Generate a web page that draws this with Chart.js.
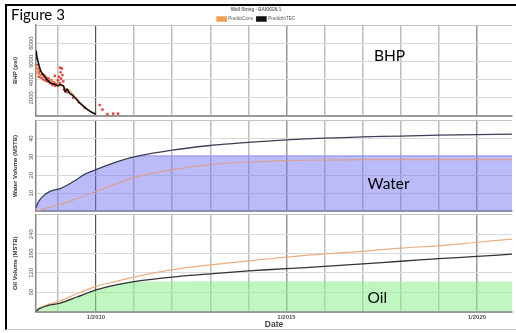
<!DOCTYPE html>
<html><head><meta charset="utf-8">
<script src="https://cdn.jsdelivr.net/npm/chart.js@4/dist/chart.umd.min.js"></script>
<style>
html,body{margin:0;padding:0;background:#fff;}
body{width:516px;height:333px;position:relative;overflow:hidden;}
.cw{position:absolute;left:0;width:516px;}
.frame{position:absolute;left:5px;top:4px;width:520px;height:323px;border-left:2px solid #000;border-top:2px solid #000;border-bottom:1px solid #c8c8c8;}
.lbl{position:absolute;font-family:Lato,sans-serif;color:#000;line-height:1;white-space:nowrap;}
</style></head><body>
<div class="frame"></div>
<div class="cw" style="top:0;height:120px"><canvas id="c1" width="516" height="120"></canvas></div>
<div class="cw" style="top:116px;height:100px"><canvas id="c2" width="516" height="100"></canvas></div>
<div class="cw" style="top:212px;height:121px"><canvas id="c3" width="516" height="121"></canvas></div>
<div class="lbl" style="left:11px;top:7.4px;font-size:15px">Figure 3</div>
<div class="lbl" style="left:374px;top:47.5px;font-size:15.5px">BHP</div>
<div class="lbl" style="left:367.5px;top:175.6px;font-size:15.5px">Water</div>
<div class="lbl" style="left:367.5px;top:290px;font-size:15.5px">Oil</div>
<script>
// ---------- data (x = decimal year) ----------
const X_MIN = 2008.425, X_MAX = 2020.92;
const chartTitle = 'Well String - BAKKEN 1';
const seriesNames = ['PredictCons', 'PredictInTEC', 'Observed'];

const bhpInTECYears = [2008.43,2008.45,2008.49,2008.53,2008.57,2008.62,2008.66,2008.72,2008.79,2008.86,2008.92,2009.0,2009.05,2009.1,2009.15,2009.19,2009.24,2009.28,2009.32,2009.38,2009.45,2009.52,2009.58,2009.65,2009.72,2009.79,2009.87,2009.94,2010.0];
const bhpInTEC      = [7200,6500,5800,5200,4800,4500,4300,4000,3700,3550,3500,3300,3450,3400,3300,2650,2950,2700,2450,2300,2000,1700,1400,1150,900,680,450,300,200];
const bhpConsYears  = [2008.43,2008.47,2008.52,2008.6,2008.7,2008.8,2008.9,2009.0,2009.1,2009.2,2009.3,2009.45,2009.6,2009.8,2010.0];
const bhpCons       = [5600,4800,4500,4400,4100,3900,3600,3400,3300,3000,2800,2100,1400,650,150];
const bhpObsYears   = [2008.43,2008.45,2008.47,2008.49,2008.5,2008.52,2008.55,2008.57,2008.6,2008.62,2008.65,2008.68,2008.7,2008.73,2008.76,2008.8,2008.83,2008.86,2008.9,2008.92,2008.93,2008.97,2009.0,2009.03,2009.05,2009.06,2009.07,2009.08,2009.1,2009.12,2009.14,2009.16,2009.25,2009.4,2009.55,2009.7,2010.1,2010.17,2010.3,2010.45,2010.58];
const bhpObs        = [6300,5600,5200,4700,4300,4900,4500,4200,4600,4000,4400,3900,4200,3800,4100,3600,3900,3400,3700,4400,3300,3500,3900,4300,3600,5300,4800,4100,5200,4500,3800,2900,2600,2000,1500,900,1200,700,200,250,250];

const waterYears    = [2008.43,2008.48,2008.61,2008.79,2009.06,2009.24,2009.45,2009.71,2010.0,2010.5,2011.0,2012.0,2013.0,2014.0,2015.0,2016.0,2017.0,2018.0,2019.0,2020.0,2020.92];
const waterInTEC    = [2,5,8.4,11,12.6,14.4,17,20.5,23,27,30,33.7,36.3,38,39.4,40.3,41,41.5,42,42.3,42.5];
const waterConsYears= [2008.43,2008.7,2009.06,2009.5,2010.0,2010.5,2011.0,2012.0,2013.0,2014.0,2015.0,2016.0,2017.0,2018.0,2019.0,2020.0,2020.92];
const waterCons     = [0,1.8,3.9,7,11,15,18.7,23,25.8,27.2,28,28.3,28.5,28.5,28.5,28.5,28.5];
const waterFillYears= [2008.43,2008.48,2008.61,2008.79,2009.06,2009.24,2009.45,2009.71,2010.0,2010.5,2011.0,2011.12,2020.92];
const waterFill     = [2,5,8.4,11,12.6,14.4,17,20.5,23,27,30,31,31];

const oilYears      = [2008.43,2008.5,2008.75,2009.06,2009.5,2010.0,2010.5,2011.0,2012.0,2013.0,2014.0,2015.0,2016.0,2017.0,2018.0,2019.0,2020.0,2020.92];
const oilInTEC      = [0,8,19,26,45,67,82,93,107,117,126,133,140,148,156,164,171,178];
const oilCons       = [0,10,22,33,55,78,93,107,130,145,157,169,179,187,197,204,215,225];
const oilFillYears  = [2008.43,2008.5,2008.75,2009.06,2009.5,2010.0,2010.5,2011.0,2020.92];
const oilFill       = [0,8,19,26,45,67,82,93,93];

const xTickLabels = {2010:'1/2010', 2015:'1/2015', 2020:'1/2020'};
const bhpTicks = [2000,4000,6000,8000];
const waterTicks = [10,20,30,40];
const oilTicks = [60,120,180,240];

// ---------- helpers ----------
const pts = (xs, ys) => xs.map((x, i) => ({x, y: ys[i]}));
const FONT = 'Liberation Sans';

function xScale(last) {
  return {
    type: 'linear', min: X_MIN, max: X_MAX,
    ticks: {display: last, stepSize: 1, autoSkip: false, maxRotation: 0, includeBounds: false,
      padding: 2, color: '#555', font: {size: 6, weight: 'bold', family: FONT},
      callback: v => xTickLabels[v] || ''},
    grid: {drawTicks: false,
      color: c => (c.tick && c.tick.value === 2010) ? '#555' : ((c.tick && (c.tick.value === 2015 || c.tick.value === 2020)) ? '#999' : '#bdbdbd'),
      lineWidth: c => (c.tick && c.tick.value === 2010) ? 1.2 : 1.5},
    border: {color: '#9a9a9a', width: 2},
    title: {display: last, text: 'Date', color: '#444', font: {size: 8.5, weight: 'bold', family: FONT}, padding: {top: 0, bottom: 3}},
    afterFit: s => { s.height = last ? 21.5 : 0; }
  };
}
function yScale(title, max, step, labels, pad) {
  return {
    type: 'linear', min: 0, max: max,
    ticks: {stepSize: step, minRotation: 90, maxRotation: 90, crossAlign: 'center', padding: pad,
      color: '#555', font: {size: 6, family: FONT},
      callback: v => labels.includes(v) ? String(v) : ''},
    grid: {drawTicks: false, color: c => (c.tick && c.tick.value === max) ? '#c4c4c4' : '#dadada', lineWidth: 1},
    border: {color: '#888', width: 1.5},
    title: {display: true, text: title, color: '#333', font: {size: 6, weight: 'bold', family: FONT}, padding: {top: 11.4, bottom: 0}},
    afterFit: s => { s.width = 36; }
  };
}
const lineDs = (label, data, color, width, order) => ({
  label, data, borderColor: color, backgroundColor: color, borderWidth: width,
  pointRadius: 0, fill: false, tension: 0.25, order
});

// ---------- chart 1 : BHP ----------
new Chart(document.getElementById('c1'), {
  type: 'line',
  data: {datasets: [
    lineDs(seriesNames[0], pts(bhpConsYears, bhpCons), '#f0a050', 1.5, 1),
    lineDs(seriesNames[1], pts(bhpInTECYears, bhpInTEC), '#111', 1.6, 0),
    {label: seriesNames[2], data: pts(bhpObsYears, bhpObs), showLine: false, pointRadius: 1.4,
     pointBorderWidth: 0, backgroundColor: 'rgba(225,40,30,0.85)', borderColor: 'rgba(225,40,30,0.85)', order: 2}
  ]},
  options: {
    responsive: false, animation: false,
    layout: {padding: {top: 0, right: 4, bottom: 2, left: 0}},
    plugins: {
      title: {display: true, text: chartTitle, color: '#666', font: {size: 4.5, family: FONT}, padding: {top: 7.3, bottom: 0}},
      legend: {display: true, maxHeight: 12.3,
        labels: {color: '#555', font: {size: 4.5, family: FONT}, boxWidth: 9, boxHeight: 4, padding: 4,
          filter: it => it.datasetIndex < 2,
          sort: (a, b) => a.datasetIndex - b.datasetIndex}},
      tooltip: {enabled: false}
    },
    scales: {x: xScale(false), y: yScale('BHP (psi)', 10000, 2000, bhpTicks, -2.4)}
  }
});

// ---------- chart 2 : Water ----------
new Chart(document.getElementById('c2'), {
  type: 'line',
  data: {datasets: [
    lineDs(seriesNames[0], pts(waterConsYears, waterCons), '#d9a090', 1.2, 1),
    lineDs(seriesNames[1], pts(waterYears, waterInTEC), '#3c3f55', 1.3, 0),
    {label: 'Water fill', data: pts(waterFillYears, waterFill), borderWidth: 0, pointRadius: 0,
     fill: 'origin', backgroundColor: 'rgba(110,110,245,0.47)', borderColor: 'rgba(0,0,0,0)', tension: 0.25, order: 3}
  ]},
  options: {
    responsive: false, animation: false,
    layout: {padding: {top: 2, right: 4, bottom: 2, left: 0}},
    plugins: {legend: {display: false}, tooltip: {enabled: false}},
    scales: {x: xScale(false), y: yScale('Water Volume (MSTB)', 50, 10, waterTicks, 1)}
  }
});

// ---------- chart 3 : Oil ----------
new Chart(document.getElementById('c3'), {
  type: 'line',
  data: {datasets: [
    lineDs(seriesNames[0], pts(oilYears, oilCons), '#eaae80', 1.2, 1),
    lineDs(seriesNames[1], pts(oilYears, oilInTEC), '#333', 1.3, 0),
    {label: 'Oil fill', data: pts(oilFillYears, oilFill), borderWidth: 0, pointRadius: 0,
     fill: 'origin', backgroundColor: 'rgba(140,238,140,0.55)', borderColor: 'rgba(0,0,0,0)', tension: 0.25, order: 3}
  ]},
  options: {
    responsive: false, animation: false,
    layout: {padding: {top: 2, right: 4, bottom: 0, left: 0}},
    plugins: {legend: {display: false}, tooltip: {enabled: false}},
    scales: {x: xScale(true), y: yScale('Oil Volume (MSTB)', 300, 60, oilTicks, -0.7)}
  }
});
</script>
</body></html>
